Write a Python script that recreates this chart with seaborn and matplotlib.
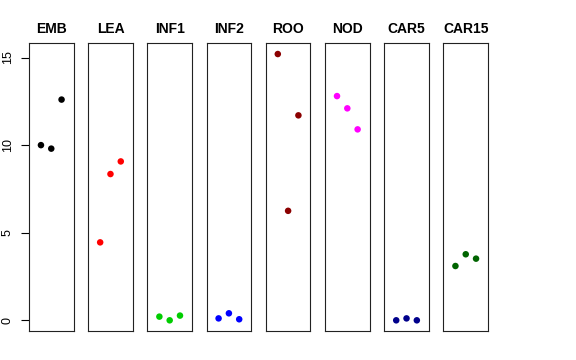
import pandas as pd
import matplotlib
matplotlib.use("Agg")
import matplotlib.pyplot as plt
import seaborn as sns

sns.set_style("white")
plt.rcParams["font.family"] = ["Liberation Sans", "DejaVu Sans"]
plt.rcParams["text.color"] = "black"
plt.rcParams["ytick.color"] = "black"

# data
tissues = ["EMB", "LEA", "INF1", "INF2", "ROO", "NOD", "CAR5", "CAR15"]
colors = ["#000000", "#FF0000", "#00CD00", "#0000FF", "#8B0000", "#FF00FF", "#00008B", "#006400"]
replicates = [1, 2, 3]
emb = [10.0, 9.8, 12.6]
lea = [4.45, 8.35, 9.07]
inf1 = [0.21, 0.0, 0.27]
inf2 = [0.11, 0.40, 0.06]
roo = [15.2, 6.25, 11.7]
nod = [12.8, 12.1, 10.9]
car5 = [0.0, 0.11, 0.0]
car15 = [3.1, 3.77, 3.52]

values = [emb, lea, inf1, inf2, roo, nod, car5, car15]
rows = []
for t, v in zip(tissues, values):
    for r, y in zip(replicates, v):
        rows.append({"tissue": t, "rep": r, "expr": y})
df = pd.DataFrame(rows)

g = sns.relplot(
    data=df, x="rep", y="expr", col="tissue", hue="tissue",
    col_order=tissues, hue_order=tissues, palette=colors,
    kind="scatter", s=22, linewidth=0, legend=False,
    height=3, aspect=0.3,
)
g.figure.set_size_inches(5.76, 3.6)
g.figure.subplots_adjust(left=29/576, right=488/576, top=1-43/360, bottom=1-331/360, wspace=0.33)

for i, (ax, t) in enumerate(zip(g.axes.flat, tissues)):
    ax.set_xlim(-0.16, 4.16)
    ax.set_ylim(-0.61, 15.83)
    ax.set_title(t, fontsize=10, fontweight="bold", pad=7, color="black")
    ax.set_xlabel("")
    ax.set_ylabel("")
    ax.set_xticks([])
    for sp in ax.spines.values():
        sp.set_visible(True)
        sp.set_color("#222222")
        sp.set_linewidth(0.8)
    if i == 0:
        ax.set_yticks([0, 5, 10, 15])
        ax.tick_params(axis="y", left=True, length=5.8, width=0.8, pad=5,
                       labelsize=9, color="black", labelcolor="black")
        for lab in ax.get_yticklabels():
            lab.set_rotation(90)
            lab.set_va("center")
    else:
        ax.tick_params(axis="y", left=False, labelleft=False)

g.figure.savefig("out.png", dpi=100)
